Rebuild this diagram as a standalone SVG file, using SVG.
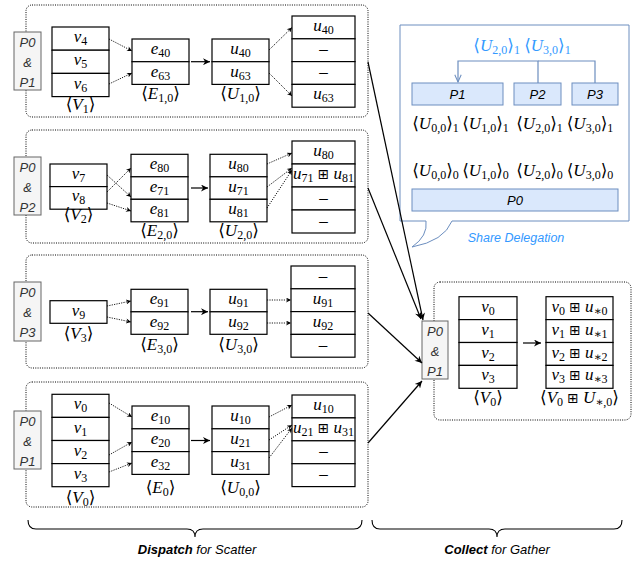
<svg xmlns="http://www.w3.org/2000/svg" width="637" height="561" viewBox="0 0 637 561">
<defs>
<style>
.c{fill:#fff;stroke:#000;stroke-width:1.2}
.panel{fill:none;stroke:#000;stroke-width:1;stroke-dasharray:1 1.3}
.pbox{fill:#f5f5f5;stroke:#666;stroke-width:1}
.pt{font-family:"Liberation Sans",Arial,sans-serif;font-style:italic;font-size:13px;fill:#333;text-anchor:middle}
.bt{font-family:"Liberation Sans",Arial,sans-serif;font-style:italic;font-size:13px;fill:#000;text-anchor:middle}
.bbox{fill:#dae8fc;stroke:#6c8ebf;stroke-width:1}
.m{font-family:"Liberation Serif","DejaVu Serif","DejaVu Sans",serif;font-size:17px;text-anchor:middle;fill:#000}
.i{font-style:italic}
.s{font-size:12px;font-style:normal}
.op{font-family:"DejaVu Sans",sans-serif;font-size:13.5px;font-style:normal}
.blue{fill:#3399ff}
.dot{fill:none;stroke:#000;stroke-width:0.9;stroke-dasharray:1.2 1.2;marker-end:url(#ahs)}
.sol{fill:none;stroke:#000;stroke-width:1.2;marker-end:url(#ah)}
.brace{fill:none;stroke:#000;stroke-width:1.1}
.cap{font-family:"Liberation Sans",Arial,sans-serif;font-size:13px;text-anchor:middle;fill:#000}
</style>
<marker id="ah" viewBox="0 0 10 10" refX="10" refY="5" markerWidth="9" markerHeight="7" markerUnits="userSpaceOnUse" orient="auto">
<path d="M0,0 L10,5 L0,10 L3,5 Z" fill="#000"/>
</marker>
<marker id="ahs" viewBox="0 0 10 10" refX="10" refY="5" markerWidth="6" markerHeight="5" markerUnits="userSpaceOnUse" orient="auto">
<path d="M0,0 L10,5 L0,10 L3,5 Z" fill="#000"/>
</marker>
<marker id="aho" viewBox="0 0 10 10" refX="9" refY="5" markerWidth="9" markerHeight="8" markerUnits="userSpaceOnUse" orient="auto">
<path d="M0,1 L9,5 L0,9" fill="none" stroke="#6c8ebf" stroke-width="1.3"/>
</marker>
</defs>

<!-- dispatch panels -->
<g id="panel-v1">
<rect class="panel" x="26" y="5" width="342" height="112" rx="6"/>
<rect class="pbox" x="14" y="32" width="27" height="58"/>
<text class="pt" x="27.5" y="46.5">P0</text><text class="pt" x="27.5" y="66.5">&amp;</text><text class="pt" x="27.5" y="86.5">P1</text>
</g>
<g id="col-v1">
<rect class="c" x="52" y="27" width="57" height="23.2"/><rect class="c" x="52" y="50.2" width="57" height="23.2"/><rect class="c" x="52" y="73.4" width="57" height="23.2"/>
<text class="m" x="80.5" y="42.1"><tspan class="i">v</tspan><tspan class="s" dy="3">4</tspan></text>
<text class="m" x="80.5" y="65.3"><tspan class="i">v</tspan><tspan class="s" dy="3">5</tspan></text>
<text class="m" x="80.5" y="88.5"><tspan class="i">v</tspan><tspan class="s" dy="3">6</tspan></text>
<text class="m" x="80.5" y="110">⟨<tspan class="i">V</tspan><tspan class="s" dy="3">1</tspan><tspan dy="-3">⟩</tspan></text>
</g>
<g id="col-e10">
<rect class="c" x="132" y="39" width="57" height="22.7"/><rect class="c" x="132" y="61.7" width="57" height="22.7"/>
<text class="m" x="160.5" y="53.9"><tspan class="i">e</tspan><tspan class="s" dy="3">40</tspan></text>
<text class="m" x="160.5" y="76.6"><tspan class="i">e</tspan><tspan class="s" dy="3">63</tspan></text>
<text class="m" x="160.5" y="99">⟨<tspan class="i">E</tspan><tspan class="s" dy="3">1,0</tspan><tspan dy="-3">⟩</tspan></text>
</g>
<g id="col-u10">
<rect class="c" x="212" y="39" width="57" height="22.7"/><rect class="c" x="212" y="61.7" width="57" height="22.7"/>
<text class="m" x="240.5" y="53.9"><tspan class="i">u</tspan><tspan class="s" dy="3">40</tspan></text>
<text class="m" x="240.5" y="76.6"><tspan class="i">u</tspan><tspan class="s" dy="3">63</tspan></text>
<text class="m" x="240.5" y="99">⟨<tspan class="i">U</tspan><tspan class="s" dy="3">1,0</tspan><tspan dy="-3">⟩</tspan></text>
</g>
<g id="col-r1">
<rect class="c" x="292" y="16" width="63" height="22.8"/><rect class="c" x="292" y="38.8" width="63" height="22.8"/><rect class="c" x="292" y="61.6" width="63" height="22.8"/><rect class="c" x="292" y="84.4" width="63" height="22.8"/>
<text class="m" x="323.5" y="30.9"><tspan class="i">u</tspan><tspan class="s" dy="3">40</tspan></text>
<text class="m" x="323.5" y="54.2">–</text>
<text class="m" x="323.5" y="77">–</text>
<text class="m" x="323.5" y="99.3"><tspan class="i">u</tspan><tspan class="s" dy="3">63</tspan></text>
</g>

<g id="panel-v2">
<rect class="panel" x="26" y="130" width="342" height="113" rx="6"/>
<rect class="pbox" x="14" y="157" width="27" height="58"/>
<text class="pt" x="27.5" y="171.5">P0</text><text class="pt" x="27.5" y="191.5">&amp;</text><text class="pt" x="27.5" y="211.5">P2</text>
</g>
<g id="col-v2">
<rect class="c" x="50" y="164" width="57" height="22.6"/><rect class="c" x="50" y="186.6" width="57" height="22.6"/>
<text class="m" x="78.5" y="178.8"><tspan class="i">v</tspan><tspan class="s" dy="3">7</tspan></text>
<text class="m" x="78.5" y="201.4"><tspan class="i">v</tspan><tspan class="s" dy="3">8</tspan></text>
<text class="m" x="78.5" y="220">⟨<tspan class="i">V</tspan><tspan class="s" dy="3">2</tspan><tspan dy="-3">⟩</tspan></text>
</g>
<g id="col-e20">
<rect class="c" x="131" y="154.3" width="57" height="22.5"/><rect class="c" x="131" y="176.8" width="57" height="22.5"/><rect class="c" x="131" y="199.3" width="57" height="22.5"/>
<text class="m" x="159.5" y="169"><tspan class="i">e</tspan><tspan class="s" dy="3">80</tspan></text>
<text class="m" x="159.5" y="191.5"><tspan class="i">e</tspan><tspan class="s" dy="3">71</tspan></text>
<text class="m" x="159.5" y="214"><tspan class="i">e</tspan><tspan class="s" dy="3">81</tspan></text>
<text class="m" x="159.5" y="235.5">⟨<tspan class="i">E</tspan><tspan class="s" dy="3">2,0</tspan><tspan dy="-3">⟩</tspan></text>
</g>
<g id="col-u20">
<rect class="c" x="210" y="154.3" width="57" height="22.5"/><rect class="c" x="210" y="176.8" width="57" height="22.5"/><rect class="c" x="210" y="199.3" width="57" height="22.5"/>
<text class="m" x="238.5" y="169"><tspan class="i">u</tspan><tspan class="s" dy="3">80</tspan></text>
<text class="m" x="238.5" y="191.5"><tspan class="i">u</tspan><tspan class="s" dy="3">71</tspan></text>
<text class="m" x="238.5" y="214"><tspan class="i">u</tspan><tspan class="s" dy="3">81</tspan></text>
<text class="m" x="238.5" y="235.5">⟨<tspan class="i">U</tspan><tspan class="s" dy="3">2,0</tspan><tspan dy="-3">⟩</tspan></text>
</g>
<g id="col-r2">
<rect class="c" x="292" y="141" width="63" height="23"/><rect class="c" x="292" y="164" width="63" height="23"/><rect class="c" x="292" y="187" width="63" height="23"/><rect class="c" x="292" y="210" width="63" height="23"/>
<text class="m" x="323.5" y="156"><tspan class="i">u</tspan><tspan class="s" dy="3">80</tspan></text>
<text class="m" x="323.5" y="179"><tspan class="i">u</tspan><tspan class="s" dy="3">71</tspan><tspan class="op" dy="-3"> ⊞ </tspan><tspan class="i">u</tspan><tspan class="s" dy="3">81</tspan></text>
<text class="m" x="323.5" y="202.5">–</text>
<text class="m" x="323.5" y="225.5">–</text>
</g>

<g id="panel-v3">
<rect class="panel" x="26" y="255" width="342" height="113" rx="6"/>
<rect class="pbox" x="14" y="282" width="27" height="59"/>
<text class="pt" x="27.5" y="296.5">P0</text><text class="pt" x="27.5" y="316.5">&amp;</text><text class="pt" x="27.5" y="336.5">P3</text>
</g>
<g id="col-v3">
<rect class="c" x="50" y="300.7" width="57" height="22.6"/>
<text class="m" x="78.5" y="315.5"><tspan class="i">v</tspan><tspan class="s" dy="3">9</tspan></text>
<text class="m" x="78.5" y="339">⟨<tspan class="i">V</tspan><tspan class="s" dy="3">3</tspan><tspan dy="-3">⟩</tspan></text>
</g>
<g id="col-e30">
<rect class="c" x="131" y="289.3" width="57" height="22.5"/><rect class="c" x="131" y="311.8" width="57" height="22.5"/>
<text class="m" x="159.5" y="304"><tspan class="i">e</tspan><tspan class="s" dy="3">91</tspan></text>
<text class="m" x="159.5" y="326.5"><tspan class="i">e</tspan><tspan class="s" dy="3">92</tspan></text>
<text class="m" x="159.5" y="350">⟨<tspan class="i">E</tspan><tspan class="s" dy="3">3,0</tspan><tspan dy="-3">⟩</tspan></text>
</g>
<g id="col-u30">
<rect class="c" x="210" y="289.3" width="57" height="22.5"/><rect class="c" x="210" y="311.8" width="57" height="22.5"/>
<text class="m" x="238.5" y="304"><tspan class="i">u</tspan><tspan class="s" dy="3">91</tspan></text>
<text class="m" x="238.5" y="326.5"><tspan class="i">u</tspan><tspan class="s" dy="3">92</tspan></text>
<text class="m" x="238.5" y="350">⟨<tspan class="i">U</tspan><tspan class="s" dy="3">3,0</tspan><tspan dy="-3">⟩</tspan></text>
</g>
<g id="col-r3">
<rect class="c" x="291" y="266" width="64" height="22.8"/><rect class="c" x="291" y="288.8" width="64" height="22.8"/><rect class="c" x="291" y="311.6" width="64" height="22.8"/><rect class="c" x="291" y="334.4" width="64" height="22.8"/>
<text class="m" x="323" y="281.4" fill="#999">–</text>
<text class="m" x="323" y="303.7"><tspan class="i">u</tspan><tspan class="s" dy="3">91</tspan></text>
<text class="m" x="323" y="326.5"><tspan class="i">u</tspan><tspan class="s" dy="3">92</tspan></text>
<text class="m" x="323" y="349.8">–</text>
</g>

<g id="panel-v0">
<rect class="panel" x="26" y="382" width="342" height="125" rx="6"/>
<rect class="pbox" x="14" y="411" width="27" height="58"/>
<text class="pt" x="27.5" y="425.5">P0</text><text class="pt" x="27.5" y="445.5">&amp;</text><text class="pt" x="27.5" y="465.5">P1</text>
</g>
<g id="col-v0">
<rect class="c" x="52" y="394.3" width="57" height="23.1"/><rect class="c" x="52" y="417.4" width="57" height="23.1"/><rect class="c" x="52" y="440.5" width="57" height="23.1"/><rect class="c" x="52" y="463.6" width="57" height="23.1"/>
<text class="m" x="80.5" y="409.4"><tspan class="i">v</tspan><tspan class="s" dy="3">0</tspan></text>
<text class="m" x="80.5" y="432.5"><tspan class="i">v</tspan><tspan class="s" dy="3">1</tspan></text>
<text class="m" x="80.5" y="455.6"><tspan class="i">v</tspan><tspan class="s" dy="3">2</tspan></text>
<text class="m" x="80.5" y="478.7"><tspan class="i">v</tspan><tspan class="s" dy="3">3</tspan></text>
<text class="m" x="80.5" y="503">⟨<tspan class="i">V</tspan><tspan class="s" dy="3">0</tspan><tspan dy="-3">⟩</tspan></text>
</g>
<g id="col-e0">
<rect class="c" x="132" y="406" width="57" height="22.8"/><rect class="c" x="132" y="428.8" width="57" height="22.8"/><rect class="c" x="132" y="451.6" width="57" height="22.8"/>
<text class="m" x="160.5" y="420.9"><tspan class="i">e</tspan><tspan class="s" dy="3">10</tspan></text>
<text class="m" x="160.5" y="443.7"><tspan class="i">e</tspan><tspan class="s" dy="3">20</tspan></text>
<text class="m" x="160.5" y="466.5"><tspan class="i">e</tspan><tspan class="s" dy="3">32</tspan></text>
<text class="m" x="160.5" y="492.5">⟨<tspan class="i">E</tspan><tspan class="s" dy="3">0</tspan><tspan dy="-3">⟩</tspan></text>
</g>
<g id="col-u00">
<rect class="c" x="212" y="406" width="57" height="22.8"/><rect class="c" x="212" y="428.8" width="57" height="22.8"/><rect class="c" x="212" y="451.6" width="57" height="22.8"/>
<text class="m" x="240.5" y="420.9"><tspan class="i">u</tspan><tspan class="s" dy="3">10</tspan></text>
<text class="m" x="240.5" y="443.7"><tspan class="i">u</tspan><tspan class="s" dy="3">21</tspan></text>
<text class="m" x="240.5" y="466.5"><tspan class="i">u</tspan><tspan class="s" dy="3">31</tspan></text>
<text class="m" x="240.5" y="492.5">⟨<tspan class="i">U</tspan><tspan class="s" dy="3">0,0</tspan><tspan dy="-3">⟩</tspan></text>
</g>
<g id="col-r0">
<rect class="c" x="292" y="395" width="63" height="22.9"/><rect class="c" x="292" y="417.9" width="63" height="22.9"/><rect class="c" x="292" y="440.8" width="63" height="22.9"/><rect class="c" x="292" y="463.7" width="63" height="22.9"/>
<text class="m" x="323.5" y="410"><tspan class="i">u</tspan><tspan class="s" dy="3">10</tspan></text>
<text class="m" x="323.5" y="432.9"><tspan class="i">u</tspan><tspan class="s" dy="3">21</tspan><tspan class="op" dy="-3"> ⊞ </tspan><tspan class="i">u</tspan><tspan class="s" dy="3">31</tspan></text>
<text class="m" x="323.5" y="456.3">–</text>
<text class="m" x="323.5" y="479.2">–</text>
</g>

<!-- gather panel -->
<g id="panel-gather">
<rect class="panel" x="434" y="282" width="197" height="138" rx="6"/>
<rect class="pbox" x="422" y="321" width="26" height="58"/>
<text class="pt" x="435" y="335.5">P0</text><text class="pt" x="435" y="355.5">&amp;</text><text class="pt" x="435" y="375.5">P1</text>
</g>
<g id="col-gv0">
<rect class="c" x="459" y="296.7" width="58" height="22.9"/><rect class="c" x="459" y="319.6" width="58" height="22.9"/><rect class="c" x="459" y="342.5" width="58" height="22.9"/><rect class="c" x="459" y="365.4" width="58" height="22.9"/>
<text class="m" x="488" y="311.7"><tspan class="i">v</tspan><tspan class="s" dy="3">0</tspan></text>
<text class="m" x="488" y="334.6"><tspan class="i">v</tspan><tspan class="s" dy="3">1</tspan></text>
<text class="m" x="488" y="357.5"><tspan class="i">v</tspan><tspan class="s" dy="3">2</tspan></text>
<text class="m" x="488" y="380.4"><tspan class="i">v</tspan><tspan class="s" dy="3">3</tspan></text>
<text class="m" x="488" y="403">⟨<tspan class="i">V</tspan><tspan class="s" dy="3">0</tspan><tspan dy="-3">⟩</tspan></text>
</g>
<g id="col-gsum">
<rect class="c" x="546" y="296.7" width="67" height="22.9"/><rect class="c" x="546" y="319.6" width="67" height="22.9"/><rect class="c" x="546" y="342.5" width="67" height="22.9"/><rect class="c" x="546" y="365.4" width="67" height="22.9"/>
<text class="m" x="579.5" y="311.7"><tspan class="i">v</tspan><tspan class="s" dy="3">0</tspan><tspan class="op" dy="-3"> ⊞ </tspan><tspan class="i">u</tspan><tspan class="s" dy="3">∗0</tspan></text>
<text class="m" x="579.5" y="334.6"><tspan class="i">v</tspan><tspan class="s" dy="3">1</tspan><tspan class="op" dy="-3"> ⊞ </tspan><tspan class="i">u</tspan><tspan class="s" dy="3">∗1</tspan></text>
<text class="m" x="579.5" y="357.5"><tspan class="i">v</tspan><tspan class="s" dy="3">2</tspan><tspan class="op" dy="-3"> ⊞ </tspan><tspan class="i">u</tspan><tspan class="s" dy="3">∗2</tspan></text>
<text class="m" x="579.5" y="380.4"><tspan class="i">v</tspan><tspan class="s" dy="3">3</tspan><tspan class="op" dy="-3"> ⊞ </tspan><tspan class="i">u</tspan><tspan class="s" dy="3">∗3</tspan></text>
<text class="m" x="579.5" y="403">⟨<tspan class="i">V</tspan><tspan class="s" dy="3">0</tspan><tspan class="op" dy="-3"> ⊞ </tspan><tspan class="i">U</tspan><tspan class="s" dy="3">∗,0</tspan><tspan dy="-3">⟩</tspan></text>
</g>

<!-- share delegation callout -->
<g id="share-delegation">
<path d="M400,25 H629 V221 H452 Q444,241 412,247 Q428,236 426,221 H400 Z" fill="#fff" stroke="#6c8ebf" stroke-width="1"/>
<text class="m blue" x="522" y="51">⟨<tspan class="i">U</tspan><tspan class="s" dy="3">2,0</tspan><tspan dy="-3">⟩</tspan><tspan class="s" dy="3">1</tspan><tspan dy="-3"> ⟨</tspan><tspan class="i">U</tspan><tspan class="s" dy="3">3,0</tspan><tspan dy="-3">⟩</tspan><tspan class="s" dy="3">1</tspan></text>
<path d="M538,83 V61 H458 V82" fill="none" stroke="#6c8ebf" stroke-width="1.2" marker-end="url(#aho)"/>
<path d="M595,83 V61 H538" fill="none" stroke="#6c8ebf" stroke-width="1.2"/>
<g id="box-p1"><rect class="bbox" x="412" y="83" width="91" height="22"/><text class="bt" x="457.5" y="98.5">P1</text></g>
<g id="box-p2"><rect class="bbox" x="514" y="83" width="47" height="22"/><text class="bt" x="537.5" y="98.5">P2</text></g>
<g id="box-p3"><rect class="bbox" x="572" y="83" width="46" height="22"/><text class="bt" x="595" y="98.5">P3</text></g>
<text class="m" x="435.5" y="129">⟨<tspan class="i">U</tspan><tspan class="s" dy="3">0,0</tspan><tspan dy="-3">⟩</tspan><tspan class="s" dy="3">1</tspan></text>
<text class="m" x="485.5" y="129">⟨<tspan class="i">U</tspan><tspan class="s" dy="3">1,0</tspan><tspan dy="-3">⟩</tspan><tspan class="s" dy="3">1</tspan></text>
<text class="m" x="539.5" y="129">⟨<tspan class="i">U</tspan><tspan class="s" dy="3">2,0</tspan><tspan dy="-3">⟩</tspan><tspan class="s" dy="3">1</tspan></text>
<text class="m" x="590" y="129">⟨<tspan class="i">U</tspan><tspan class="s" dy="3">3,0</tspan><tspan dy="-3">⟩</tspan><tspan class="s" dy="3">1</tspan></text>
<text class="m" x="435.5" y="176">⟨<tspan class="i">U</tspan><tspan class="s" dy="3">0,0</tspan><tspan dy="-3">⟩</tspan><tspan class="s" dy="3">0</tspan></text>
<text class="m" x="485.5" y="176">⟨<tspan class="i">U</tspan><tspan class="s" dy="3">1,0</tspan><tspan dy="-3">⟩</tspan><tspan class="s" dy="3">0</tspan></text>
<text class="m" x="539.5" y="176">⟨<tspan class="i">U</tspan><tspan class="s" dy="3">2,0</tspan><tspan dy="-3">⟩</tspan><tspan class="s" dy="3">0</tspan></text>
<text class="m" x="590" y="176">⟨<tspan class="i">U</tspan><tspan class="s" dy="3">3,0</tspan><tspan dy="-3">⟩</tspan><tspan class="s" dy="3">0</tspan></text>
<g id="box-p0"><rect class="bbox" x="412" y="189" width="206" height="22"/><text class="bt" x="515" y="204.5">P0</text></g>
<text x="516" y="241.5" font-family="Liberation Sans, Arial, sans-serif" font-style="italic" font-size="12.5" fill="#3399ff" text-anchor="middle">Share Delegation</text>
</g>

<!-- connectors -->
<g id="connectors">
<path class="dot" d="M109,39 L132,51"/>
<path class="dot" d="M109,84 L132,73"/>
<path class="sol" d="M191,61.7 H210"/>
<path class="dot" d="M269,50 L292,27.5"/>
<path class="dot" d="M269,73 L292,96"/>

<path class="dot" d="M107,175 L131,197"/>
<path class="dot" d="M107,192 L131,168"/>
<path class="dot" d="M107,203 L131,211"/>
<path class="sol" d="M191,188 H208"/>
<path class="dot" d="M267,164 L292,153"/>
<path class="dot" d="M267,187 L292,168"/>
<path class="dot" d="M267,208 L292,170"/>

<path class="dot" d="M107,306 L131,301"/>
<path class="dot" d="M107,317 L131,322"/>
<path class="sol" d="M191,311.7 H208"/>
<path class="dot" d="M267,300 H291"/>
<path class="dot" d="M267,323 H291"/>

<path class="dot" d="M109,403 L132,417"/>
<path class="dot" d="M109,455 L132,442"/>
<path class="dot" d="M109,472 L132,463"/>
<path class="sol" d="M191,440.5 H210"/>
<path class="dot" d="M269,417 L292,405"/>
<path class="dot" d="M269,440 L292,425"/>
<path class="dot" d="M269,458 L292,428"/>

<path class="sol" d="M368,62 L423,320"/>
<path class="sol" d="M368,188 L421,319"/>
<path class="sol" d="M368,313 L422,363"/>
<path class="sol" d="M368,443 L422,381"/>

<path class="sol" d="M523,343 H541"/>
</g>

<!-- braces and captions -->
<g id="caption-dispatch">
<path class="brace" d="M28,520 Q28,529 36,529 H187 Q195,529 195,537 Q195,529 203,529 H354 Q362,529 362,520"/>
<text class="cap" x="197" y="554"><tspan font-weight="bold" font-style="italic">Dispatch</tspan><tspan font-style="italic"> for Scatter</tspan></text>
</g>
<g id="caption-collect">
<path class="brace" d="M372,520 Q372,529 380,529 H489 Q497,529 497,537 Q497,529 505,529 H614 Q622,529 622,520"/>
<text class="cap" x="497" y="554"><tspan font-weight="bold" font-style="italic">Collect</tspan><tspan font-style="italic"> for Gather</tspan></text>
</g>
</svg>
